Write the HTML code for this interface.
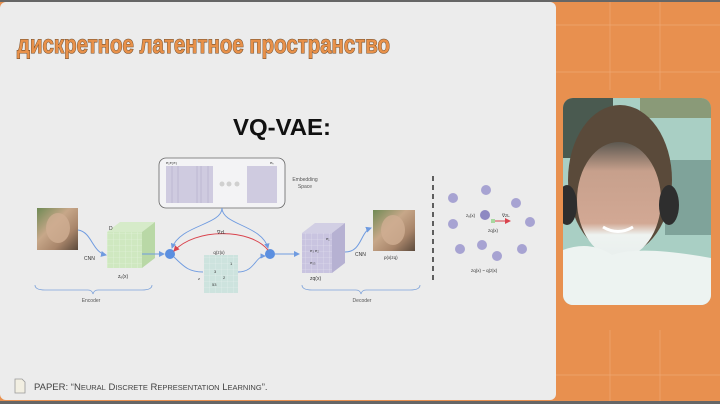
<!DOCTYPE html>
<html><head><meta charset="utf-8"><style>
html,body{margin:0;padding:0;width:720px;height:404px;overflow:hidden;background:#e8904f}
svg{display:block}
</style></head><body>
<svg width="720" height="404" viewBox="0 0 720 404" xmlns="http://www.w3.org/2000/svg" font-family="Liberation Sans, sans-serif">
<defs>
<marker id="ab" markerWidth="6" markerHeight="6" refX="5" refY="3" orient="auto"><path d="M0,0 L6,3 L0,6z" fill="#6f9be0"/></marker>
<marker id="ar" markerWidth="6" markerHeight="6" refX="5" refY="3" orient="auto"><path d="M0,0 L6,3 L0,6z" fill="#d9434d"/></marker>
<pattern id="g" width="6" height="6" patternUnits="userSpaceOnUse"><path d="M6 0V6H0" fill="none" stroke="#fff" stroke-opacity=".5" stroke-width=".6"/></pattern>
<linearGradient id="dog" x1="0" y1="0" x2="1" y2="1"><stop offset="0" stop-color="#6f8a55"/><stop offset=".4" stop-color="#c7a789"/><stop offset=".7" stop-color="#a8856a"/><stop offset="1" stop-color="#5b4a3c"/></linearGradient>
<linearGradient id="face" x1="0" y1="0" x2="0" y2="1"><stop offset="0" stop-color="#5c5850"/><stop offset=".25" stop-color="#c7a08c"/><stop offset=".7" stop-color="#d2a894"/><stop offset=".8" stop-color="#eef3f0"/><stop offset="1" stop-color="#e9efee"/></linearGradient>
</defs>
<rect width="720" height="404" fill="#e8904f"/>
<g stroke="#f4b98a" stroke-width=".7" opacity=".6">
<line x1="556" y1="25" x2="720" y2="25"/><line x1="556" y1="72" x2="720" y2="72"/><line x1="610" y1="0" x2="610" y2="90"/><line x1="660" y1="0" x2="660" y2="90"/>
<line x1="610" y1="330" x2="610" y2="404"/><line x1="660" y1="330" x2="660" y2="404"/><line x1="556" y1="375" x2="720" y2="375"/>
</g>
<rect x="0" y="2" width="556" height="398" rx="6" fill="#ececec"/>
<rect x="0" y="0" width="720" height="2" fill="#666"/>
<rect x="0" y="401" width="720" height="3" fill="#666"/>
<text x="17" y="53" font-size="26" font-weight="bold" fill="#e8914a" stroke="#6b4a2c" stroke-width="1.1" paint-order="stroke" textLength="373" lengthAdjust="spacingAndGlyphs">дискретное латентное пространство</text>
<text x="282" y="135" font-size="23" font-weight="bold" text-anchor="middle" fill="#111" textLength="98" lengthAdjust="spacingAndGlyphs">VQ-VAE:</text>
<rect x="159" y="158" width="126" height="50" rx="7" fill="#f3f3f5" stroke="#666" stroke-width=".8"/>
<rect x="166" y="166" width="47" height="37" fill="#cfcbe0"/>
<g stroke="#a9a4c4" stroke-width=".5"><line x1="172" y1="166" x2="172" y2="203"/><line x1="178" y1="166" x2="178" y2="203"/><line x1="197" y1="166" x2="197" y2="203"/><line x1="201" y1="166" x2="201" y2="203"/><line x1="208" y1="166" x2="208" y2="203"/></g>
<rect x="247" y="166" width="30" height="37" fill="#cfcbe0"/>
<circle cx="222" cy="184" r="2.5" fill="#d0d0d0"/><circle cx="229" cy="184" r="2.5" fill="#d0d0d0"/><circle cx="237" cy="184" r="2.5" fill="#d0d0d0"/>
<text x="166" y="164" font-size="4" fill="#333">e₁e₂e₃</text><text x="270" y="164" font-size="4" fill="#333">eₖ</text>
<text x="305" y="181" font-size="5" text-anchor="middle" fill="#555">Embedding</text><text x="305" y="188" font-size="5" text-anchor="middle" fill="#555">Space</text>
<rect x="37" y="208" width="41" height="42" fill="url(#dog)"/>
<ellipse cx="58" cy="228" rx="12" ry="15" fill="#cfae92" opacity=".8"/>
<path d="M78 230 C92 232 92 252 106 255" fill="none" stroke="#6f9be0" stroke-width="1" marker-end="url(#ab)"/>
<text x="84" y="260" font-size="5" fill="#333">CNN</text>
<path d="M107 232 L120 222 L155 222 L142 232z" fill="#d6ebc9"/>
<path d="M142 232 L155 222 L155 258 L142 268z" fill="#b9d8a6"/>
<rect x="107" y="232" width="35" height="36" fill="#cfe8c0"/>
<rect x="107" y="232" width="35" height="36" fill="url(#g)"/>
<text x="109" y="230" font-size="5" fill="#333">D</text>
<text x="118" y="278" font-size="5" fill="#333">zₑ(x)</text>
<path d="M142 254 L164 254" stroke="#6f9be0" stroke-width="1" marker-end="url(#ab)"/>
<circle cx="170" cy="254" r="5" fill="#5b8fe0"/><circle cx="270" cy="254" r="5" fill="#5b8fe0"/>
<path d="M222 208 C222 225 180 225 172 248" fill="none" stroke="#6f9be0" stroke-width=".9" marker-end="url(#ab)"/>
<path d="M222 208 C222 225 262 225 268 248" fill="none" stroke="#6f9be0" stroke-width=".9" marker-end="url(#ab)"/>
<path d="M268 250 C250 228 195 228 174 251" fill="none" stroke="#d9434d" stroke-width="1" marker-end="url(#ar)"/>
<text x="217" y="234" font-size="5" fill="#333">∇zL</text>
<rect x="204" y="255" width="34" height="38" fill="#cde3de"/>
<rect x="204" y="255" width="34" height="38" fill="url(#g)"/>
<text x="219" y="254" font-size="4.5" text-anchor="middle" fill="#333">q(z|x)</text>
<text x="230" y="265" font-size="4" fill="#333">1</text><text x="214" y="273" font-size="4" fill="#333">3</text><text x="223" y="279" font-size="4" fill="#333">2</text><text x="212" y="286" font-size="4" fill="#333">53</text>
<text x="198" y="280" font-size="4" fill="#333">z</text>
<path d="M174 257 C185 268 190 272 203 272" fill="none" stroke="#6f9be0" stroke-width=".9"/>
<path d="M238 272 C255 272 255 256 265 256" fill="none" stroke="#6f9be0" stroke-width=".9" marker-end="url(#ab)"/>
<path d="M275 254 L299 254" stroke="#6f9be0" stroke-width="1" marker-end="url(#ab)"/>
<path d="M302 233 L315 223 L345 223 L332 233z" fill="#d2cfe4"/>
<path d="M332 233 L345 223 L345 263 L332 273z" fill="#b6b1d2"/>
<rect x="302" y="233" width="30" height="40" fill="#c9c4e0"/>
<rect x="302" y="233" width="30" height="40" fill="url(#g)"/>
<text x="326" y="240" font-size="4" fill="#333">e₁</text><text x="310" y="252" font-size="4" fill="#333">e₃ e₂</text><text x="310" y="264" font-size="4" fill="#333">e₅₃</text>
<text x="310" y="280" font-size="5" fill="#333">zq(x)</text>
<path d="M345 252 C362 252 360 232 371 228" fill="none" stroke="#6f9be0" stroke-width="1" marker-end="url(#ab)"/>
<text x="355" y="256" font-size="5" fill="#333">CNN</text>
<rect x="373" y="210" width="42" height="41" fill="url(#dog)"/>
<ellipse cx="393" cy="230" rx="12" ry="15" fill="#cfae92" opacity=".8"/>
<text x="384" y="259" font-size="4.5" fill="#333">p(x|zq)</text>
<path d="M35 285 Q35 290 45 290 L88 290 Q92 290 93 294 Q94 290 98 290 L142 290 Q152 290 152 285" fill="none" stroke="#7ea3da" stroke-width=".8"/>
<text x="91" y="302" font-size="5" text-anchor="middle" fill="#555">Encoder</text>
<path d="M302 285 Q302 290 312 290 L356 290 Q360 290 361 294 Q362 290 366 290 L410 290 Q420 290 420 285" fill="none" stroke="#7ea3da" stroke-width=".8"/>
<text x="362" y="302" font-size="5" text-anchor="middle" fill="#555">Decoder</text>
<line x1="433" y1="176" x2="433" y2="281" stroke="#111" stroke-width="1.3" stroke-dasharray="5,4"/>
<g fill="#a7a3d2"><circle cx="453" cy="198" r="5"/><circle cx="486" cy="190" r="5"/><circle cx="516" cy="203" r="5"/><circle cx="453" cy="224" r="5"/><circle cx="530" cy="222" r="5"/><circle cx="460" cy="249" r="5"/><circle cx="482" cy="245" r="5"/><circle cx="497" cy="256" r="5"/><circle cx="522" cy="249" r="5"/></g>
<circle cx="485" cy="215" r="5" fill="#8e89c2"/>
<rect x="491" y="219" width="4" height="4" fill="#a8d8a0"/>
<path d="M495 221 L510 221" stroke="#d9434d" stroke-width="1" marker-end="url(#ar)"/>
<text x="466" y="217" font-size="4.5" fill="#333">zₑ(x)</text>
<text x="502" y="217" font-size="4.5" fill="#333">∇zL</text>
<text x="488" y="232" font-size="4.5" fill="#333">zq(x)</text>
<text x="471" y="272" font-size="4.5" fill="#333">zq(x) ~ q(z|x)</text>
<path d="M15 379 L22 379 L25 382 L25 393 L15 393z" fill="#f2efe2" stroke="#999" stroke-width=".8"/>
<text x="34" y="390" font-size="9.5" fill="#444">PAPER: “N<tspan font-size="7.5">EURAL</tspan> D<tspan font-size="7.5">ISCRETE</tspan> R<tspan font-size="7.5">EPRESENTATION</tspan> L<tspan font-size="7.5">EARNING</tspan>”.</text>
<clipPath id="cam"><rect x="563" y="98" width="148" height="207" rx="10"/></clipPath>
<g clip-path="url(#cam)">
<rect x="563" y="98" width="148" height="207" fill="#a9cfc4"/>
<rect x="563" y="98" width="50" height="60" fill="#4a5a50"/>
<rect x="640" y="98" width="71" height="20" fill="#8a9a78"/>
<rect x="665" y="160" width="46" height="75" fill="#7fa39a"/>
<ellipse cx="620" cy="180" rx="52" ry="75" fill="#5a4a3a"/>
<ellipse cx="619" cy="200" rx="42" ry="58" fill="url(#face)"/>
<ellipse cx="567" cy="205" rx="10" ry="20" fill="#2e2e2e"/>
<ellipse cx="669" cy="205" rx="10" ry="20" fill="#2e2e2e"/>
<path d="M563 305 L563 250 Q590 240 612 255 Q640 245 711 258 L711 305z" fill="#edf3f1"/>
<path d="M603 227 Q618 236 633 227" stroke="#fff" stroke-width="3" fill="none"/>
</g>
</svg>
</body></html>
